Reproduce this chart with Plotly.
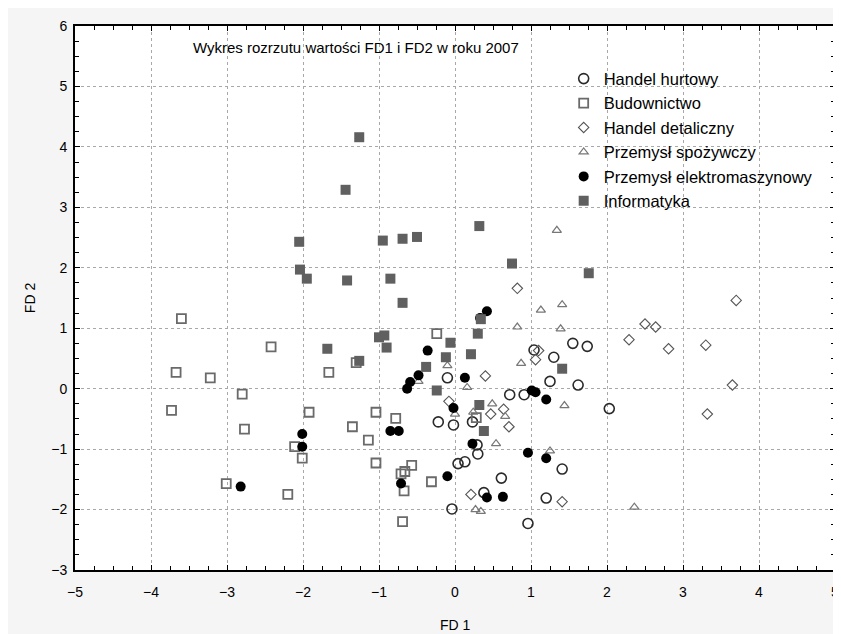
import plotly.graph_objects as go

# ---- data (FD1, FD2) per branch ----
hurt_x = [1.55, 1.74, 1.30, 1.25, 1.62, -0.10, 0.72, 0.91, 2.03, -0.22, -0.02, 0.23, 0.29, 0.30, 0.04, 0.13, 0.61, 0.38, 1.20, 1.41, -0.04, 0.96, 1.04]
hurt_y = [0.75, 0.70, 0.52, 0.12, 0.06, 0.18, -0.10, -0.10, -0.33, -0.55, -0.60, -0.55, -0.93, -1.08, -1.24, -1.21, -1.48, -1.72, -1.81, -1.33, -1.99, -2.23, 0.64]

bud_x = [-3.60, -2.42, -3.67, -3.22, -2.80, -3.73, -2.77, -1.92, -2.11, -2.01, -3.01, -2.20, -1.66, -1.30, -0.24, -1.04, -0.78, -1.35, -1.14, -1.04, -0.57, -0.71, -0.66, -0.67, -0.31, -0.69, 0.28]
bud_y = [1.16, 0.69, 0.27, 0.18, -0.09, -0.36, -0.67, -0.39, -0.96, -1.15, -1.57, -1.75, 0.27, 0.43, 0.91, -0.39, -0.49, -0.63, -0.85, -1.23, -1.27, -1.41, -1.37, -1.69, -1.54, -2.20, -0.48]

det_x = [0.82, 0.40, 1.10, 1.06, 3.70, 2.50, 2.64, 2.29, 2.81, 3.30, 3.65, 3.32, 1.41, -0.08, 0.64, 0.47, 0.71, 0.21]
det_y = [1.66, 0.21, 0.63, 0.48, 1.46, 1.07, 1.02, 0.81, 0.66, 0.72, 0.06, -0.42, -1.87, -0.21, -0.34, -0.42, -0.63, -1.75]

spoz_x = [1.34, 1.13, 1.41, 0.82, 1.39, 0.87, -0.10, -0.48, 0.16, 0.49, 1.44, 0.00, 0.24, 0.66, 0.54, 1.25, 0.27, 0.34, 2.36]
spoz_y = [2.62, 1.30, 1.39, 1.02, 0.99, 0.42, 0.38, 0.12, 0.02, -0.25, -0.28, -0.42, -0.39, -0.46, -0.91, -1.03, -2.00, -2.03, -1.96]

elek_x = [0.42, 0.33, -0.36, -0.48, -0.59, -0.63, 0.13, 1.01, 1.06, 1.20, -0.02, -0.85, -0.74, 0.23, 0.96, 1.20, -0.10, -0.71, 0.42, 0.63, -2.01, -2.01, -2.82]
elek_y = [1.28, 1.17, 0.63, 0.22, 0.11, 0.00, 0.18, -0.03, -0.06, -0.18, -0.32, -0.70, -0.70, -0.91, -1.06, -1.15, -1.45, -1.57, -1.80, -1.79, -0.75, -0.96, -1.62]

inf_x = [-1.26, -1.44, -2.05, -2.04, -1.95, -0.95, -0.69, -0.50, 0.32, 0.75, 1.76, -1.42, -0.85, -0.69, 0.30, 0.34, -1.00, -0.93, -0.90, -1.68, -1.26, -0.06, -0.12, -0.38, 0.21, 1.41, -0.24, 0.32, 0.38]
inf_y = [4.16, 3.29, 2.43, 1.97, 1.82, 2.45, 2.48, 2.51, 2.69, 2.07, 1.91, 1.79, 1.82, 1.42, 0.91, 1.15, 0.85, 0.88, 0.68, 0.66, 0.46, 0.76, 0.52, 0.36, 0.57, 0.33, -0.03, -0.27, -0.70]

names = ["Handel hurtowy", "Budownictwo", "Handel detaliczny",
         "Przemysł spożywczy", "Przemysł elektromaszynowy", "Informatyka"]

FONT = "Liberation Sans, Arial, sans-serif"

fig = go.Figure()

def add(xs, ys, name, symbol, size, color, lcolor, lwidth):
    fig.add_trace(go.Scatter(
        x=xs, y=ys, mode="markers", name=name,
        marker=dict(symbol=symbol, size=size, color=color,
                    line=dict(color=lcolor, width=lwidth)),
    ))

add(hurt_x, hurt_y, names[0], "circle-open", 10, "#2a2a2a", "#2a2a2a", 1.6)
add(bud_x, bud_y, names[1], "square-open", 9, "#6a6a6a", "#6a6a6a", 1.8)
add(det_x, det_y, names[2], "diamond-open", 8, "#555555", "#555555", 1.1)
add(spoz_x, spoz_y, names[3], "triangle-up-open", 8, "#777777", "#777777", 1.2)
add(elek_x, elek_y, names[4], "circle", 10, "#000000", "#000000", 0)
add(inf_x, inf_y, names[5], "square", 10, "#606060", "#606060", 0)

axis_common = dict(
    showline=True, linewidth=2, linecolor="black", mirror="ticks",
    ticks="inside", ticklen=5, tickwidth=1, tickcolor="black",
    showgrid=True, gridcolor="#a8a8a8", griddash="dot", gridwidth=1,
    zeroline=False, dtick=1, ticklabeloverflow="allow",
    tickfont=dict(family=FONT, size=14, color="black"),
    minor=dict(dtick=0.25, ticks="inside", ticklen=4, tickcolor="black", showgrid=False),
)

fig.update_xaxes(range=[-5, 5], ticklabelstandoff=8, **axis_common)
fig.update_yaxes(range=[-3, 6], ticklabelstandoff=3,
                 title=dict(text="FD 2", standoff=12, font=dict(family=FONT, size=14, color="black")),
                 **axis_common)

fig.add_annotation(
    text="FD 1", xref="paper", yref="paper", x=0.5, y=-0.101,
    xanchor="center", yanchor="middle", showarrow=False,
    font=dict(family=FONT, size=14, color="black"),
)

fig.add_annotation(
    text="Wykres rozrzutu wartości FD1 i FD2 w roku 2007",
    xref="paper", yref="paper", x=0.153, y=0.961, xanchor="left", yanchor="middle",
    showarrow=False, font=dict(family=FONT, size=15, color="black"),
)

fig.update_layout(
    width=841, height=626,
    margin=dict(l=67, r=10, t=18, b=64),
    paper_bgcolor="#f5f5f5", plot_bgcolor="white",
    showlegend=True,
    legend=dict(x=0.643, y=0.935, xanchor="left", yanchor="top",
                bgcolor="rgba(0,0,0,0)", borderwidth=0,
                font=dict(family=FONT, size=16.5, color="black"),
                itemsizing="trace"),
)

fig.write_html("out.html")
